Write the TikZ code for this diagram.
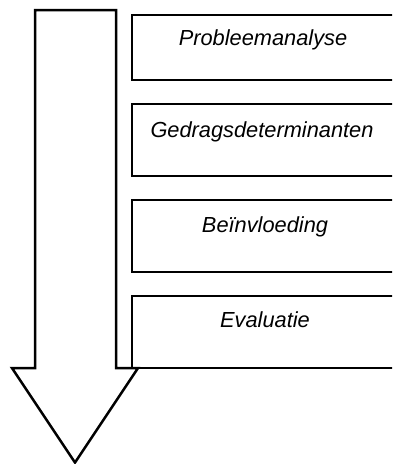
\documentclass[tikz,border=0pt]{standalone}
\usepackage{fontspec}
\setmainfont{Liberation Sans}
\begin{document}
\begin{tikzpicture}[x=1pt,y=-1pt,
  stagebox/.style={draw=black,line width=2.8pt,fill=white},
  stagelabel/.style={font=\itshape\fontsize{21.8}{24}\selectfont,anchor=base,inner sep=0pt},
  bigarrow/.style={draw=black,line width=2.5pt,fill=white,line join=miter}]
\useasboundingbox (0,0) rectangle (392,464);
\begin{scope}
\clip (0,0) rectangle (392,464);
\draw[stagebox] (132,15) rectangle (398,80);
\draw[stagebox] (132,104) rectangle (398,176);
\draw[stagebox] (132,200) rectangle (398,272);
\draw[stagebox] (132,296) rectangle (398,368);
\node[stagelabel] (p1) at (263,45) {Probleemanalyse};
\node[stagelabel] (p2) at (262,137) {Gedragsdeterminanten};
\node[stagelabel] (p3) at (265,232) {Beïnvloeding};
\node[stagelabel] (p4) at (265,327) {Evaluatie};
\draw[bigarrow] (35,10) -- (116,10) -- (116,368) -- (138,368) -- (75,462.5) -- (12,368) -- (35,368) -- cycle;
\end{scope}
\end{tikzpicture}
\end{document}
